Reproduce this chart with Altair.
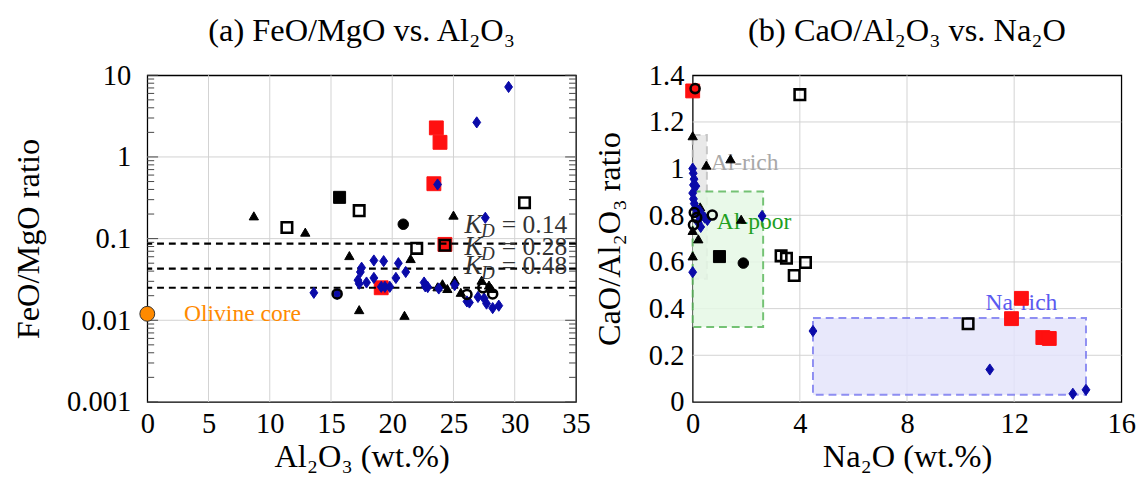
import altair as alt
import pandas as pd

FONT = "Liberation Serif"

# ---------------- Panel (a): FeO/MgO vs Al2O3 ----------------
a_diam_x = [29.5, 26.9, 23.7, 27.6, 13.6, 15.5, 17.5, 17.4, 17.2, 17.3, 17.9, 18.5, 19.3, 18.5,
            19.1, 19.4, 19.8, 20.5, 21.1, 20.3, 22.6, 22.7, 22.9, 23.8, 25.1, 26.1, 26.3, 27.0,
            27.5, 27.7, 28.2, 28.7]
a_diam_y = [7.2, 2.65, 0.46, 0.18, 0.0217, 0.021, 0.044, 0.039, 0.031, 0.028, 0.029, 0.054, 0.053,
            0.033, 0.0257, 0.0257, 0.0257, 0.050, 0.039, 0.033, 0.029, 0.026, 0.0255, 0.0245, 0.027,
            0.017, 0.0165, 0.0193, 0.0185, 0.016, 0.0141, 0.0151]

a_tri_x = [8.7, 12.9, 16.5, 17.3, 21.0, 21.5, 25.0, 23.7, 24.1, 24.5, 25.1, 25.6, 27.3, 27.9, 28.1]
a_tri_y = [0.19, 0.12, 0.062, 0.0135, 0.0115, 0.057, 0.194, 0.0257, 0.028, 0.0245, 0.031, 0.022,
           0.031, 0.027, 0.0245]

a_red_x = [23.6, 23.9, 23.4, 24.3, 19.1]
a_red_y = [2.27, 1.51, 0.47, 0.085, 0.025]

a_bsq_x = [15.7]
a_bsq_y = [0.32]

a_osq_x = [11.4, 17.3, 22.0, 30.8, 24.3]
a_osq_y = [0.137, 0.22, 0.076, 0.275, 0.083]

a_bci_x = [20.9]
a_bci_y = [0.15]

a_oci_x = [15.5, 26.1, 27.4, 28.2]
a_oci_y = [0.021, 0.0207, 0.025, 0.021]

oliv_x = [0.0]
oliv_y = [0.012]

kd_lines = [0.087, 0.043, 0.025]
kd_text = ["= 0.14", "= 0.28", "= 0.48"]
kd_text_x = [25.9, 25.9, 25.9]
kd_text_y = [0.148, 0.078, 0.046]

a_xticks = [0, 5, 10, 15, 20, 25, 30, 35]
a_yticks = [0.001, 0.01, 0.1, 1, 10]
a_minor = [m * 10 ** k for k in range(-3, 1) for m in range(2, 10)]

# ---------------- Panel (b): CaO/Al2O3 vs Na2O ----------------
b_diam_x = [0.0, 0.02, 0.05, 0.03, 0.12, 0.0, 0.03, 0.06, 0.1, 0.15, 0.25, 0.35, 0.45, 0.55, 0.3,
            0.2, 2.59, 0.0, 4.49, 11.09, 14.19, 14.68]
b_diam_y = [1.0, 0.98, 0.955, 0.93, 0.925, 0.895, 0.87, 0.85, 0.83, 0.81, 0.82, 0.8, 0.79, 0.78,
            0.75, 0.77, 0.797, 0.556, 0.304, 0.139, 0.035, 0.052]

b_tri_x = [0.0, 0.51, 1.41, 1.81, 0.21, 0.0, 0.28, 0.0, 0.1, 0.4]
b_tri_y = [1.141, 1.015, 1.042, 0.783, 0.699, 0.626, 0.836, 0.735, 0.84, 0.80]

b_red_x = [0.0, 12.27, 11.9, 13.07, 13.31]
b_red_y = [1.333, 0.444, 0.357, 0.276, 0.272]

b_bsq_x = [1.0]
b_bsq_y = [0.623]

b_osq_x = [4.0, 3.3, 3.5, 4.21, 3.79, 10.28]
b_osq_y = [1.317, 0.626, 0.616, 0.598, 0.542, 0.335]

b_bci_x = [1.89]
b_bci_y = [0.595]

b_oci_x = [0.09, 0.06, 0.03, 0.73, 0.15]
b_oci_y = [1.343, 0.812, 0.759, 0.801, 0.79]

regions = ["Al-rich", "Al-poor", "Na-rich"]
reg_x1 = [0.0, 0.0, 4.49]
reg_x2 = [0.53, 2.63, 14.68]
reg_y1 = [0.528, 0.321, 0.031]
reg_y2 = [1.144, 0.902, 0.36]
reg_fill = ["#e6e6e6", "#e6f8e6", "#e4e4fb"]
reg_stroke = ["#bdbdbd", "#5cb85c", "#7b7bf0"]
reg_lab_x = [0.67, 0.9, 12.27]
reg_lab_y = [1.025, 0.77, 0.423]
reg_lab_col = ["#a8a8a8", "#1fa01f", "#5a5af0"]

b_xticks = [0, 4, 8, 12, 16]
b_yticks = [0, 0.2, 0.4, 0.6, 0.8, 1.0, 1.2, 1.4]

W, H = 437, 333
BLUE = "#0a0aa8"
RED = "#ff1010"
GRID = "#d2d2d2"
DIAMOND = "M0,-1L0.7,0L0,1L-0.7,0Z"


def df(xs, ys):
    return pd.DataFrame({"x": xs, "y": ys})


axis_common = dict(labelFont=FONT, titleFont=FONT, labelFontSize=29, titleFontSize=33,
                   titleFontWeight="normal", labelColor="black", titleColor="black",
                   grid=False, domain=False, ticks=False, labelFlush=False)

# ---- panel a scales/axes ----
xsc_a = alt.Scale(domain=[0, 35], nice=False, zero=False)
ysc_a = alt.Scale(type="log", domain=[0.001, 10], nice=False)
xax_a = alt.Axis(values=a_xticks, title="Al₂O₃ (wt.%)", labelPadding=8, titlePadding=3,
                 **axis_common)
yax_a = alt.Axis(values=a_yticks, format="~g", title="FeO/MgO ratio", labelPadding=17,
                 titlePadding=22, **axis_common)


def XA(f="x"):
    return alt.X(f + ":Q", scale=xsc_a, axis=xax_a)


def YA(f="y"):
    return alt.Y(f + ":Q", scale=ysc_a, axis=yax_a)


# ---- panel b scales/axes ----
xsc_b = alt.Scale(domain=[0, 16], nice=False, zero=False)
ysc_b = alt.Scale(domain=[0, 1.4], nice=False)
xax_b = alt.Axis(values=b_xticks, title="Na₂O (wt.%)", labelPadding=8, titlePadding=3,
                 **axis_common)
yax_b = alt.Axis(values=b_yticks, format="~g", title="CaO/Al₂O₃ ratio", labelPadding=9,
                 titlePadding=22, **axis_common)


def XB(f="x"):
    return alt.X(f + ":Q", scale=xsc_b, axis=xax_b)


def YB(f="y"):
    return alt.Y(f + ":Q", scale=ysc_b, axis=yax_b)


def grid(X, Y, xvals, yvals):
    # interior gridlines only, so the black frame stays visible
    gx = alt.Chart(pd.DataFrame({"x": xvals[1:-1]})).mark_rule(
        color=GRID, strokeWidth=1).encode(x=X())
    gy = alt.Chart(pd.DataFrame({"y": yvals[1:-1]})).mark_rule(
        color=GRID, strokeWidth=1).encode(y=Y())
    return [gx, gy]


def pts(d, X, Y, shape, size, color, filled=True, sw=1.0, stroke=None):
    c = alt.Chart(d)
    if filled:
        m = c.mark_point(shape=shape, size=size, filled=True, fill=color,
                         stroke=stroke or color, strokeWidth=sw, opacity=1)
    else:
        m = c.mark_point(shape=shape, size=size, filled=False, color=color,
                         strokeWidth=sw, opacity=1)
    return m.encode(x=X(), y=Y())


def series(X, Y, red, tri, diam, bsq, osq, bci, oci):
    return [
        pts(df(*red), X, Y, "square", 200, RED),
        pts(df(*tri), X, Y, "triangle-up", 90, "black"),
        pts(df(*diam), X, Y, DIAMOND, 130, BLUE),
        pts(df(*bsq), X, Y, "square", 150, "black"),
        pts(df(*osq), X, Y, "square", 115, "black", filled=False, sw=2.6),
        pts(df(*bci), X, Y, "circle", 115, "black"),
        pts(df(*oci), X, Y, "circle", 85, "black", filled=False, sw=2.6),
    ]


# ---- panel a ----
pts_a = series(XA, YA, (a_red_x, a_red_y), (a_tri_x, a_tri_y), (a_diam_x, a_diam_y),
               (a_bsq_x, a_bsq_y), (a_osq_x, a_osq_y), (a_bci_x, a_bci_y), (a_oci_x, a_oci_y))
oliv = pts(df(oliv_x, oliv_y), XA, YA, "circle", 230, "#ff8a00", sw=1, stroke="#333333")

kd_rules = alt.Chart(pd.DataFrame({"y": kd_lines})).mark_rule(
    color="black", strokeWidth=2.2, strokeDash=[7, 5]).encode(y=YA())

minor_df = pd.DataFrame({"y": a_minor})
major_df = pd.DataFrame({"y": a_yticks})


def tick_rule(d, x1, x2):
    return alt.Chart(d).mark_rule(color="#444444", strokeWidth=1).encode(
        y=YA(), x=alt.value(x1), x2=alt.value(x2))


ticks_a = [tick_rule(minor_df, 0, 7), tick_rule(minor_df, W - 7, W),
           tick_rule(major_df, 0, 11), tick_rule(major_df, W - 11, W)]

kd_lab = pd.DataFrame({"x": kd_text_x, "y": kd_text_y, "t": kd_text})
kd_K = alt.Chart(kd_lab).mark_text(text="K", font=FONT, fontStyle="italic", fontSize=27,
                                   align="left", baseline="middle", color="#333333").encode(
    x=XA(), y=YA())
kd_D = alt.Chart(kd_lab).mark_text(text="D", font=FONT, fontStyle="italic", fontSize=19,
                                   align="left", baseline="middle", color="#333333",
                                   dx=17, dy=7).encode(x=XA(), y=YA())
kd_T = alt.Chart(kd_lab).mark_text(font=FONT, fontSize=26, align="left", baseline="middle",
                                   color="#333333", dx=38).encode(x=XA(), y=YA(), text="t:N")

oliv_lab = alt.Chart(pd.DataFrame({"x": [3.0], "y": [0.012], "t": ["Olivine core"]})).mark_text(
    font=FONT, fontSize=24, align="left", baseline="middle", color="#ff8a00").encode(
    x=XA(), y=YA(), text="t:N")

panel_a = alt.layer(
    *grid(XA, YA, a_xticks, a_yticks), pts_a[0], kd_rules, *pts_a[1:], *ticks_a,
    kd_K, kd_D, kd_T, oliv_lab, oliv
).properties(
    width=W, height=H,
    title=alt.TitleParams("(a) FeO/MgO vs. Al₂O₃", font=FONT, fontSize=33,
                          fontWeight="normal", offset=14, color="black"))

# ---- panel b ----
reg_df = pd.DataFrame({"r": regions, "x": reg_x1, "x2": reg_x2, "y": reg_y1, "y2": reg_y2,
                       "fill": reg_fill, "stroke": reg_stroke})
rects = alt.Chart(reg_df).mark_rect(strokeDash=[8, 5], strokeWidth=2, opacity=0.85).encode(
    x=XB(), x2="x2:Q", y=YB(), y2="y2:Q",
    fill=alt.Fill("fill:N", scale=None), stroke=alt.Stroke("stroke:N", scale=None))

reg_lab = pd.DataFrame({"x": reg_lab_x, "y": reg_lab_y, "t": regions, "c": reg_lab_col})
lab_left = alt.Chart(reg_lab.iloc[:2]).mark_text(font=FONT, fontSize=24, align="left",
                                                 baseline="middle").encode(
    x=XB(), y=YB(), text="t:N", color=alt.Color("c:N", scale=None))
lab_center = alt.Chart(reg_lab.iloc[2:]).mark_text(font=FONT, fontSize=24, align="center",
                                                   baseline="middle").encode(
    x=XB(), y=YB(), text="t:N", color=alt.Color("c:N", scale=None))

pts_b = series(XB, YB, (b_red_x, b_red_y), (b_tri_x, b_tri_y), (b_diam_x, b_diam_y),
               (b_bsq_x, b_bsq_y), (b_osq_x, b_osq_y), (b_bci_x, b_bci_y), (b_oci_x, b_oci_y))

panel_b = alt.layer(*grid(XB, YB, b_xticks, b_yticks), rects, lab_left, lab_center,
                    *pts_b).properties(
    width=W, height=H,
    title=alt.TitleParams("(b) CaO/Al₂O₃ vs. Na₂O", font=FONT, fontSize=33,
                          fontWeight="normal", offset=14, color="black"))

chart = alt.hconcat(panel_a, panel_b, spacing=2).configure_view(
    stroke="black", strokeWidth=1.3
).properties(padding={"left": 4, "top": 2, "right": 2, "bottom": 2})

chart.save("out.html", embed_options={"renderer": "svg", "actions": False})
